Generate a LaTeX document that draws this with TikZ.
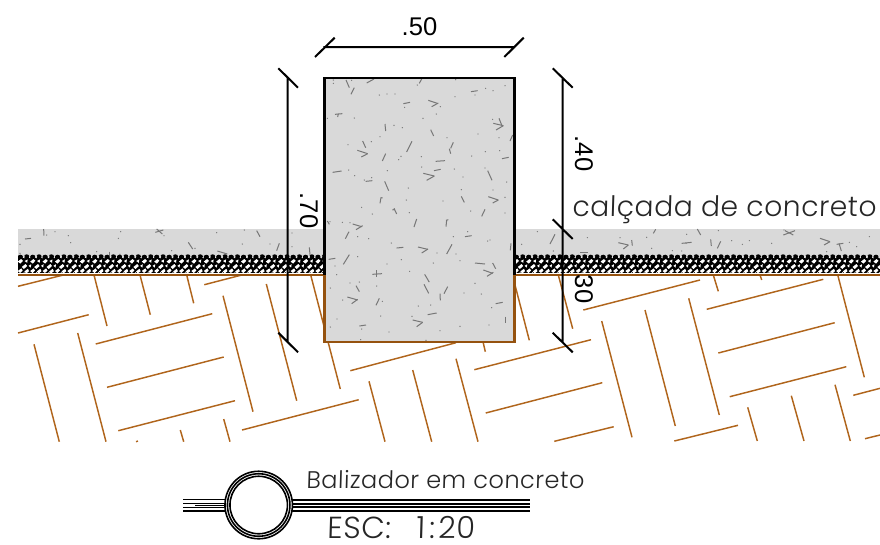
\documentclass[tikz,border=0pt]{standalone}
\usepackage{fontspec}
\setmainfont{Liberation Sans}
\newfontfamily\handfont[FakeSlant=0.03,LetterSpace=2]{Poppins Light}
\definecolor{conc}{HTML}{D9D9D9}
\definecolor{soil}{HTML}{B0651C}
\definecolor{soildk}{HTML}{95520F}
\definecolor{speck}{HTML}{777777}
\tikzset{
  soilline/.style={draw=soil,line width=1.1pt},
  dimline/.style={draw=black,line width=1.5pt},
  dimtext/.style={font=\fontsize{19.2pt}{21pt}\selectfont,inner sep=0pt},
  handtext/.style={inner sep=0pt,anchor=base west,text=black!85},
  stick/.style={draw=speck,line width=0.75pt},
  legendline/.style={draw=black,line width=1.1pt}
}
\newcommand{\specks}[2]{%
  \foreach \a/\b in {#1}{\fill[speck] (\a,\b) circle[radius=2];}%
  \foreach \a/\b/\c/\d in {#2}{\draw[stick] (\a,\b) -- (\c,\d);}%
}
\begin{document}
\begin{tikzpicture}[x=0.75pt,y=-0.75pt]
\useasboundingbox (0,0) rectangle (880,544);
% ground hatch
\foreach \a/\b/\c/\d in {
18/286.3/65/274.6, 94/275/107/326, 140/275/150.3/314.7, 186.7/275/193.7/303.3, 204.3/284.7/241.7/275,
18/333/88.7/314.7, 77.7/333/106/441.7, 34/344.3/59.3/441.7, 95.7/344/212.3/313.7, 223/295.7/253/411.7,
266.3/284/296.7/400.7, 107/387.3/223.7/357, 118.3/430.7/235/400.7, 242/430/358.7/399.7,
223.7/419/230/441.7, 180.3/430/183.7/441.7, 136/441.7/138/441, 310.7/275/340.3/389,
350.3/370.7/456/342.7, 369/381.3/385/441.7, 412.7/370/431.7/441.7, 456/358.7/478/441.7,
483.3/343/485.3/351.7, 474.3/369.7/591/339.7, 485.7/413/602.3/382.7, 554.3/441.3/613.7/426.7,
515/285/529.3/340.3, 558.3/275/572.7/328.7, 583.3/310/700/280, 601.7/321/632/437.3,
645/310/675.3/426, 688.7/298.3/719.3/415, 713.3/275/718.3/291.3, 760/275/761.7/280,
706.7/309.3/823.3/279.3, 718.3/353/834.7/322.7, 729.7/396.7/846.3/366.7, 838/276/864.3/377.3,
674.3/441/738/425.3, 747.7/407.3/757.3/441, 791.3/395.7/804/441, 835/384.7/850.3/441,
853.3/395.3/880/388.3, 865/438.7/880/435}
  {\draw[soilline] (\a,\b) -- (\c,\d);}
% pavement
\fill[conc] (18,229) rectangle (880,256);
\begin{scope}[shift={(0,210)},scale=1/3]
\specks{60/103,165/65,205/77,140/75,212/98,362/65,355/85,492/77,650/68,733/60,727/102,810/102,876/69,876/110,585/115,515/122,290/125,360/133,60/130}
{75/87/93/85,131/57/132/77,470/57/487/72,466/67/490/60,565/97/578/117,652/123/682/132,770/62/780/80,830/122/838/100,928/112/930/134,328/125/328/137}
\end{scope}
\begin{scope}[shift={(500,190)},scale=1/3]
\specks{112/125,65/163,262/143,160/183,360/143,440/142,455/175,517/182,545/183,560/133,558/160,655/122,695/152,748/152,815/160,727/163,980/185,1048/157,1070/170,1108/140,852/120}
{165/133/150/162,355/158/385/165,370/177/385/165,395/150/397/167,467/118/460/130,592/117/602/135,545/160/575/157,632/148/634/168,662/154/652/175,855/122/880/135,850/135/885/122,960/145/990/155,972/165/990/155,1010/163/1030/160,1017/160/1024/183,240/188/265/188}
\end{scope}
% mottled band
\begin{scope}
\clip (18,254) rectangle (325,275) (514,254) rectangle (880,275);
\fill[white] (18,256) rectangle (325,275) (514,256) rectangle (880,275);
\fill[black] (18,257.5) rectangle (880,273);
\foreach \i in {0,...,70}{
  \begin{scope}[shift={(18+12.4*\i,0)},xscale=1.18]
    \fill[black] (2,257) circle[radius=2.3] (7.3,256.6) circle[radius=2.3];
    \fill[conc] (4.2,255.5) -- (5.2,258.5) -- (5.8,255.5) -- cycle (9.5,255.5) -- (10.2,258.5) -- (10.9,255.5) -- cycle;
    \fill[white] (-0.2,261.6) -- (2.6,259) -- (4.2,260.8) -- (2,263.6) -- cycle
                 (5.6,261) -- (8.2,259.4) -- (7.8,262.8) -- cycle
                 (3.2,267) -- (6.4,264) -- (7.8,266) -- (5,269) -- cycle
                 (9,265.8) -- (11.2,264.2) -- (10.8,267.6) -- cycle
                 (-0.2,271) -- (2.8,268.4) -- (4,270.6) -- (1.8,273) -- cycle
                 (5.4,271.4) -- (8.4,268.8) -- (9.4,271.2) -- (7,273.4) -- cycle
                 (3.2,275) -- (5.2,272) -- (6.4,275) -- cycle
                 (8.8,275) -- (10.2,272.8) -- (11,275) -- cycle;
  \end{scope}
}
\end{scope}
\draw[soildk,line width=0.9pt] (18,275) -- (325,275) (514,275) -- (880,275);
% block
\fill[conc] (324.5,78) rectangle (514.5,342);
\begin{scope}[shift={(320,75)},scale=1/3]
\specks{178/60,201/57,225/57,405/65,465/60,497/40,519/47,555/32,254/97,361/95,349/117,22/130,103/129,309/130,222/151,247/158,180/185,154/200,84/209,381/188,474/177,537/188,518/133,304/245,243/244,236/254,455/243,496/230,539/227,305/276,86/285,104/302,202/287,403/282,495/279,429/306,560/321,265/339,424/344,519/345,555/367,259/375,369/378,125/397,157/417,268/413,452/408,555/414,40/15,40/25,95/16,407/14,292/30,155/308,133/315}
{78/15/88/38,103/38/93/58,140/24/162/12,305/12/298/25,453/50/473/47,250/86/270/82,325/76/352/85,335/95/355/84,45/118/67/116,55/116/53/126,195/147/197/168,332/164/341/183,537/130/545/150,520/145/550/152,528/165/550/152,570/198/578/180,128/198/137/218,112/226/143/236,124/246/143/236,276/199/260/231,400/202/392/220,388/221/392/236,197/236/187/258,347/259/375/257,546/251/566/247,38/292/65/288,342/287/362/283,310/295/343/303,320/316/343/303,503/287/516/316,137/319/157/317,194/319/206/347,180/385/183/367,183/368/188/369,505/365/535/375,518/384/535/375,424/364/433/382,222/400/230/417,217/405/225/403,495/403/485/424}
\end{scope}
\begin{scope}[shift={(320,205)},scale=1/3]
\specks{30/50,67/52,90/53,443/80,510/105,400/95,503/108,113/95,146/101,214/114,351/144,113/155,244/164,201/177,340/174,408/147,420/167,45/183,269/199,50/209,327/230,465/235,90/234,118/231,170/243,31/249,432/264,484/267,68/285,187/289,295/303,332/300,515/308,182/333,276/334,51/342,31/366,125/372,207/381,360/377,420/364,507/360,122/404,318/406}
{22/48/28/58,98/57/125/65,108/74/128/62,87/80/76/101,290/42/282/66,380/45/378/65,378/46/385/44,435/95/455/92,230/129/250/127,294/126/323/133,305/144/324/132,396/118/380/147,573/115/571/136,88/149/70/178,26/163/46/160,465/174/495/177,518/174/527/191,490/195/518/205,501/214/520/202,157/208/186/206,168/195/168/216,314/208/327/230,312/238/326/265,383/245/372/266,360/266/361/286,108/242/118/260,82/276/113/285,95/296/113/283,178/280/168/301,527/296/548/292,323/329/350/324,556/335/556/355,118/363/138/360,278/345/308/352,290/365/308/352}
\end{scope}
\draw[black,line width=1.6pt,line cap=rect] (324.5,275) -- (324.5,78) -- (514.5,78) -- (514.5,275);
\draw[soildk,line width=1.8pt,line join=miter] (324.5,275) -- (324.5,342) -- (514.5,342) -- (514.5,275);
% dimensions
\coordinate (h1) at (315,57); \coordinate (h2) at (334.7,37.7);
\coordinate (h3) at (504.3,57); \coordinate (h4) at (523.7,37.7);
\coordinate (hl) at (323.3,47); \coordinate (hr) at (515,47);
\draw[dimline] (hl) -- (hr) (h1) -- (h2) (h3) -- (h4);
\coordinate (la) at (287.7,78); \coordinate (lb) at (287.7,342);
\draw[dimline] (la) -- (lb) (278.3,68.3) -- (298,87.7) (278.3,332.7) -- (298,352.3);
\coordinate (ra) at (562.7,78); \coordinate (rb) at (562.7,342);
\draw[dimline] (ra) -- (rb) (552.7,68.3) -- (572.7,87.7) (552.7,219.3) -- (572.7,239) (552.7,332.7) -- (572.7,352.3);
\node[dimtext] (d50) at (419.5,27) {.50};
\node[dimtext,rotate=-90] (d70) at (309,210.5) {.70};
\node[dimtext,rotate=-90] (d40) at (584,153.5) {.40};
\node[dimtext,rotate=-90] (d30) at (584,289) {30};
% labels
\node[handtext] (lab) at (572,216.7) {\resizebox{228pt}{!}{\handfont calçada de concreto}};
\node[handtext] (title) at (306,488) {\resizebox{208.5pt}{!}{\handfont Balizador em concreto}};
\node[handtext] (scale) at (327,538) {\resizebox{111pt}{!}{\handfont ESC:\hspace{0.85em}1\hspace{0.12em}:\hspace{0.12em}20}};
% legend symbol
\draw[legendline] (183,499.5) -- (226,499.5) (183,503.5) -- (226,503.5) (183,507.5) -- (226,507.5) (183,511) -- (226,511);
\draw[black,line width=1.2pt] (195,505.3) -- (226,505.3);
\draw[legendline] (291,500) -- (530,500) (291,504.2) -- (530,504.2) (291,507) -- (530,507) (291,511) -- (530,511);
\fill[white] (258.7,505) circle[radius=34];
\node[circle,draw=black,line width=1.2pt,minimum size=67.5*0.75pt,inner sep=0pt] (ring1) at (258.7,505) {};
\node[circle,draw=black,line width=1.2pt,minimum size=62.5*0.75pt,inner sep=0pt] (ring2) at (258.7,505) {};
\node[circle,draw=black,line width=1.2pt,minimum size=57.5*0.75pt,inner sep=0pt] (ring3) at (258.7,505) {};
\end{tikzpicture}
\end{document}
